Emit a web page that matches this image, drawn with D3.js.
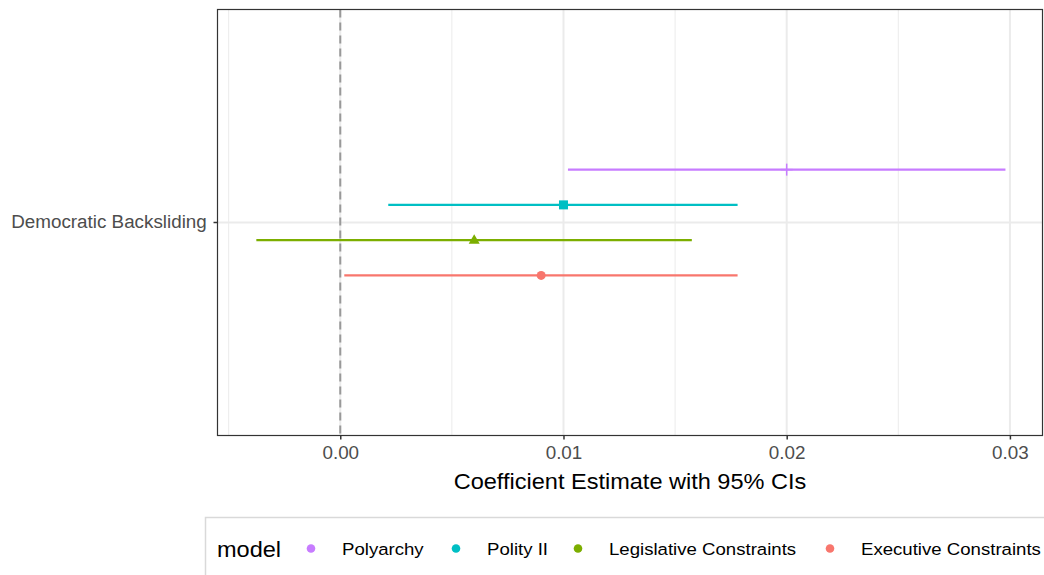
<!DOCTYPE html>
<html><head><meta charset="utf-8">
<script src="https://cdn.jsdelivr.net/npm/d3@7"></script>
<style>body{margin:0;background:#fff;font-family:"Liberation Sans",Arial,sans-serif;}</style>
</head><body><svg id="c" width="1044" height="575"></svg>
<script>
const models = ["Polyarchy","Polity II","Legislative Constraints","Executive Constraints"];
const colors = ["#C77CFF","#00BFC4","#7CAE00","#F8766D"];
const shapes = ["plus","square","triangle","circle"];
const estimates = [0.0200,0.0100,0.0060,0.0090];
const lower = [0.0102,0.00215,-0.00376,0.00018];
const upper = [0.0298,0.0178,0.01575,0.0178];
const category = ["Democratic Backsliding"];
const xTicks = [0.00,0.01,0.02,0.03];
const xMinor = [-0.005,0.005,0.015,0.025];

const SX = 1.07;
const svg = d3.select("#c");
const L=217.5,R=1042.5,T=9.5,B=435.5;
const x = d3.scaleLinear().domain([-0.0055,0.03146]).range([L,R]);
const y = d3.scaleBand().domain(category).range([T,B]);
const dodge = d3.scaleBand().domain(models).range([-70.5,70.5]);
const g = svg.append("g");
g.append("rect").attr("x",L).attr("y",T).attr("width",R-L).attr("height",B-T).attr("fill","#fff");
g.selectAll(".mn").data(xMinor).enter().append("line").attr("x1",d=>x(d)).attr("x2",d=>x(d)).attr("y1",T).attr("y2",B).attr("stroke","#EBEBEB").attr("stroke-width",1);
g.selectAll(".mj").data(xTicks).enter().append("line").attr("x1",d=>x(d)).attr("x2",d=>x(d)).attr("y1",T).attr("y2",B).attr("stroke","#EBEBEB").attr("stroke-width",2);
g.append("line").attr("x1",L).attr("x2",R).attr("y1",y(category[0])+y.bandwidth()/2).attr("y2",y(category[0])+y.bandwidth()/2).attr("stroke","#EBEBEB").attr("stroke-width",2);
g.append("line").attr("x1",x(0)).attr("x2",x(0)).attr("y1",T).attr("y2",B).attr("stroke","#999").attr("stroke-width",2).attr("stroke-dasharray","8,5");

const cy = y(category[0])+y.bandwidth()/2;
const data = models.map((m,i)=>({m,i,est:estimates[i],lo:lower[i],hi:upper[i]}));
const yy = d=>cy+dodge(d.m)+dodge.bandwidth()/2;
g.selectAll(".ci").data(data).enter().append("line")
 .attr("x1",d=>x(d.lo)).attr("x2",d=>x(d.hi)).attr("y1",yy).attr("y2",yy)
 .attr("stroke",d=>colors[d.i]).attr("stroke-width",2.2);
data.forEach(d=>{
  const px=x(d.est), py=yy(d), c=colors[d.i];
  if(shapes[d.i]==="plus"){
    g.append("line").attr("x1",px).attr("x2",px).attr("y1",py-6).attr("y2",py+6).attr("stroke",c).attr("stroke-width",1.5);
    g.append("line").attr("x1",px-6).attr("x2",px+6).attr("y1",py).attr("y2",py).attr("stroke",c).attr("stroke-width",1.5);
  } else if(shapes[d.i]==="square"){
    g.append("rect").attr("x",px-4.5).attr("y",py-4.5).attr("width",9).attr("height",9).attr("fill",c);
  } else if(shapes[d.i]==="triangle"){
    g.append("path").attr("d",`M${px},${py-6}L${px+5.5},${py+3.5}L${px-5.5},${py+3.5}Z`).attr("fill",c);
  } else {
    g.append("circle").attr("cx",px).attr("cy",py).attr("r",4.5).attr("fill",c);
  }
});
g.append("rect").attr("x",L).attr("y",T).attr("width",R-L).attr("height",B-T).attr("fill","none").attr("stroke","#333").attr("stroke-width",1.2);

function txt(xp,yp,s,size,anchor,fill){
  return svg.append("text").attr("transform",`translate(${xp},${yp}) scale(${SX},1)`)
    .attr("text-anchor",anchor||"start").attr("fill",fill||"#000").style("font-size",size+"px").text(s);
}
// axes
const xa = svg.append("g").attr("transform",`translate(0,${B})`).call(d3.axisBottom(x).tickValues(xTicks).tickFormat(d3.format(".2f")).tickSize(4).tickPadding(7));
xa.select(".domain").remove();
xa.selectAll("line").attr("stroke","#333").attr("stroke-width",1.5);
xa.selectAll("text").attr("fill","#4D4D4D").style("font-size","17.6px").attr("font-family","Liberation Sans, Arial, sans-serif").attr("transform",`scale(${SX},1)`);
const ya = svg.append("g").attr("transform",`translate(${L},0)`).call(d3.axisLeft(y).tickSize(4).tickPadding(6));
ya.select(".domain").remove();
ya.selectAll("line").attr("stroke","#333").attr("stroke-width",1.5);
ya.selectAll("text").attr("fill","#4D4D4D").style("font-size","17.6px").attr("font-family","Liberation Sans, Arial, sans-serif").attr("transform",`scale(${SX},1)`);

txt((L+R)/2,489,"Coefficient Estimate with 95% CIs",22,"middle");

// legend
svg.append("rect").attr("x",205.5).attr("y",517.5).attr("width",900).attr("height",80).attr("fill","#fff").attr("stroke","#D9D9D9").attr("stroke-width",1.5);
txt(217,557,"model",22);
const legX = [311,456,578,830];
models.forEach((m,i)=>{
  svg.append("circle").attr("cx",legX[i]).attr("cy",548.5).attr("r",4.3).attr("fill",colors[i]);
  txt(legX[i]+31,555,m,17.4);
});
</script></body></html>
